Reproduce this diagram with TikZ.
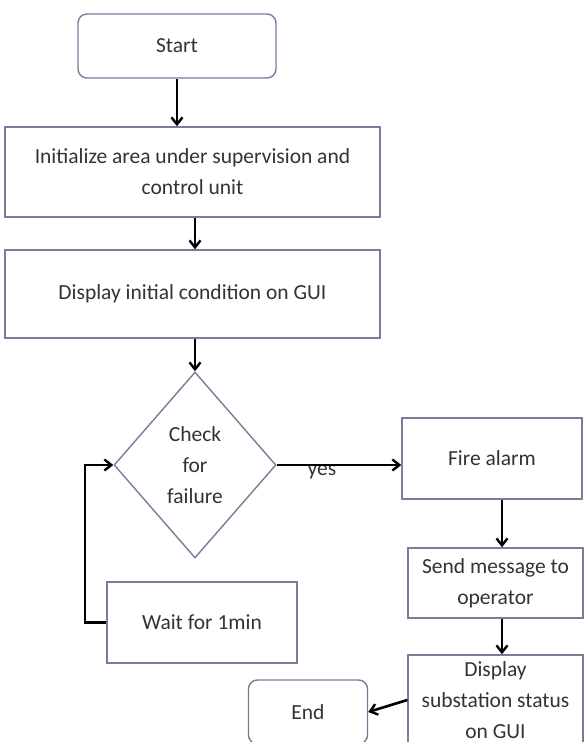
\documentclass[tikz,border=0pt]{standalone}
\usepackage{fontspec}
\setmainfont{Carlito}
\usetikzlibrary{shapes.geometric,arrows.meta}
\definecolor{boxline}{HTML}{7E7A9A}
\definecolor{txt}{HTML}{333333}
\tikzset{
  base/.style={draw=boxline, line width=1.4pt, text=txt, align=center, inner sep=2pt,
    font=\fontsize{21.5}{31}\selectfont},
  proc/.style={base, rectangle},
  term/.style={base, rectangle, rounded corners=9pt},
  decide/.style={base, diamond, aspect=0.87, inner sep=0pt},
  conn/.style={line width=2.6pt, -{Straight Barb[length=7pt,width=11pt,line width=2.4pt]}},
  lbl/.style={text=txt, font=\fontsize{21.5}{31}\selectfont}
}
\begin{document}
\begin{tikzpicture}[x=1pt,y=-1pt]
\useasboundingbox (0,0) rectangle (585,742);
\fill[white] (0,0) rectangle (585,742);
\node[term, minimum width=198pt, minimum height=64pt] (start) at (177,46) {Start};
\node[proc, minimum width=375pt, minimum height=90pt] (init) at (192.5,172) {Initialize area under supervision and\\control unit};
\node[proc, minimum width=375pt, minimum height=88pt] (disp) at (192.5,294) {Display initial condition on GUI};
\node[decide, minimum width=162pt, minimum height=186pt] (dia) at (195,465) {Check\\for\\failure};
\node[proc, minimum width=180pt, minimum height=81pt] (fire) at (492,458.5) {Fire alarm};
\node[proc, minimum width=175pt, minimum height=70pt] (send) at (495.5,583) {Send message to\\operator};
\node[proc, minimum width=175pt, minimum height=90pt] (sub) at (495.5,700) {Display\\substation status\\on GUI};
\node[term, minimum width=119pt, minimum height=64pt] (end) at (308,712) {End};
\node[proc, minimum width=190pt, minimum height=81pt] (wait) at (202,622.5) {Wait for 1min};
\node[lbl] (yes) at (322,472) {yes};
\coordinate (cx) at (195,0);
\coordinate (fx) at (502,0);
\coordinate (lp) at (85,0);
\draw[conn] (start.south) -- (init.north -| start.south);
\draw[conn] (init.south -| cx) -- (disp.north -| cx);
\draw[conn] (disp.south -| cx) -- (dia.north);
\draw[conn] (dia.east) -- (dia.east -| fire.west);
\draw[conn] (fire.south -| fx) -- (send.north -| fx);
\draw[conn] (send.south -| fx) -- (sub.north -| fx);
\draw[conn] (sub.west) -- (end.east);
\draw[conn] (wait.west) -- (wait.west -| lp) -- (dia.west -| lp) -- (dia.west);
\end{tikzpicture}
\end{document}
